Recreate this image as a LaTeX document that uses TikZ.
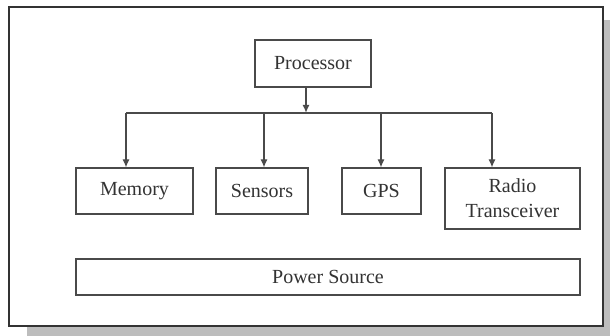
\documentclass[tikz,border=0pt]{standalone}
\usepackage{fontspec}
\setmainfont{Liberation Serif}
\usepackage{tikz}
\usetikzlibrary{arrows,arrows.meta,positioning}

\definecolor{framegray}{HTML}{333333}
\definecolor{boxgray}{HTML}{4A4A4A}
\definecolor{shadowgray}{HTML}{BDBDBD}

\begin{document}
\begin{tikzpicture}[x=1pt,y=-1pt,
	unit/.style={draw=boxgray,line width=1.2pt,fill=white,inner sep=0pt,
		minimum height=46pt,align=center,text=black!80,
		font=\fontsize{20}{25}\selectfont},
	feed/.style={draw=boxgray,line width=1.2pt,-{Latex[length=8pt,width=7pt]}}]
\useasboundingbox (0,0) rectangle (610,336);
% outer frame with its shadow
\fill [shadowgray] (27,20) rectangle (610,336);
\draw [framegray,line width=2pt,fill=white] (9,7) rectangle (603,326);

\node [unit,minimum width=116pt,minimum height=47pt] (proc) at (313,63.5) {Processor};
\node [unit,minimum width=117pt] (mem) at (134.5,191) {Memory};
\node [unit,minimum width=92pt] (sens) at (262,191) {Sensors};
\node [unit,minimum width=79pt] (gps) at (381.5,191) {GPS};
\node [unit,minimum width=135pt,minimum height=61pt] (radio) at (512.5,198.5) {Radio\\Transceiver};
\node [unit,minimum width=504pt,minimum height=36pt] (power) at (328,277) {Power Source};

% bus below the processor
\coordinate (bus) at (306,113);
\coordinate (b1) at (126,113);
\coordinate (b2) at (264,113);
\coordinate (b3) at (381,113);
\coordinate (b4) at (492,113);
\draw [feed,line width=2pt] (proc.south -| bus) -- (bus);
\draw [boxgray,line width=1.2pt] (b1) -- (b4);
\draw [feed] (b1) -- (b1 |- mem.north);
\draw [feed] (b2) -- (b2 |- sens.north);
\draw [feed] (b3) -- (b3 |- gps.north);
\draw [feed] (b4) -- (b4 |- radio.north);
\end{tikzpicture}
\end{document}
